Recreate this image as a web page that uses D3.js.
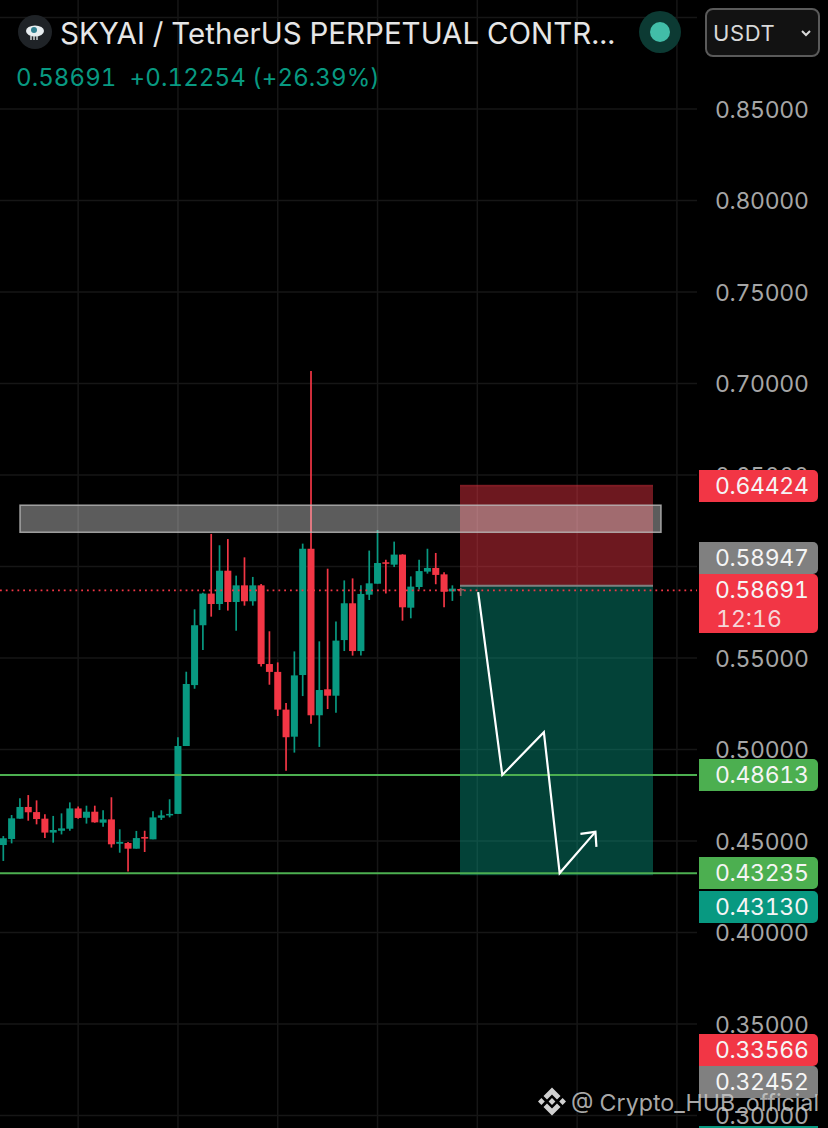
<!DOCTYPE html>
<html>
<head>
<meta charset="utf-8">
<script src="https://cdn.jsdelivr.net/npm/d3@7"></script>
<style>
  html, body { margin: 0; padding: 0; background: #000; }
  svg { display: block; }
  text { font-family: Inter, Roboto, sans-serif; white-space: pre; font-variant-numeric: tabular-nums; }
</style>
</head>
<body>
<script>
// candle data, oldest first
var opens = [.4478,.4511,.4622,.4686,.4658,.4622,.4546,.4556,.4567,.4678,.4627,.4660,.4600,.4618,.4485,.4489,.4458,.4522,.4509,.4627,.4640,
  .4648,.5019,.5352,.5679,.5852,.5795,.5977,.5806,.5897,.5810,.5897,.5467,.5424,.5218,.5070,.5407,.6097,.5187,.5329,.5294,.5598,.5799,.5538,.5846,.5906,.6023,.6010,.6065,.5775,.5888,.5972,.5992,.5957,.5864,.5877];
var highs = [.4527,.4642,.4733,.4751,.4722,.4646,.4637,.4651,.4711,.4689,.4693,.4693,.4668,.4739,.4564,.4495,.4555,.4556,.4662,.4668,.4728,
  .5067,.5425,.5766,.5857,.6178,.6116,.6150,.5950,.6050,.5943,.5904,.5646,.5476,.5254,.5536,.6125,.7068,.5591,.5988,.5700,.5924,.5935,.5897,.6087,.6199,.6037,.6136,.6067,.5946,.6037,.6097,.6074,.5968,.5897,.5883];
var lows = [.4391,.4487,.4622,.4611,.4591,.4516,.4491,.4536,.4556,.4622,.4595,.4600,.4578,.4464,.4436,.4334,.4458,.4440,.4509,.4615,.4629,
  .4648,.5019,.5332,.5544,.5726,.5762,.5759,.5649,.5786,.5786,.5453,.5354,.5183,.4884,.4983,.5292,.5141,.5014,.5221,.5201,.5538,.5513,.5513,.5817,.5906,.5852,.5997,.5704,.5717,.5875,.5961,.5903,.5777,.5812,.5839];
var closes = [.4515,.4624,.4686,.4657,.4620,.4546,.4560,.4569,.4678,.4626,.4660,.4602,.4618,.4482,.4495,.4458,.4516,.4513,.4629,.4640,.4648,
  .5019,.5358,.5679,.5852,.5795,.5977,.5806,.5897,.5810,.5897,.5467,.5424,.5218,.5067,.5405,.6097,.5187,.5325,.5294,.5595,.5799,.5538,.5850,.5908,.6019,.6015,.6065,.5777,.5890,.5975,.5992,.5954,.5862,.5879,.58691];

var priceTicks = [0.30, 0.35, 0.40, 0.45, 0.50, 0.55, 0.60, 0.65, 0.70, 0.75, 0.80, 0.85, 0.90];
var timeTicks = [9, 21, 33, 45, 57, 69, 81];

// tags on the price axis
var tagValues = ["0.64424", "0.58947", "0.58691", "0.48613", "0.43235", "0.43130", "0.33566", "0.32452"];
var tagKinds = ["red", "gray", "red", "green", "green", "teal", "red", "gray"];
var tagTops = [470, 542, 574, 759, 857, 891, 1034, 1066];

// drawn position tool: stop, entry, target, and levels
var stopPrice = 0.64424, entryPrice = 0.58947, targetPrice = 0.43130;
var supportLevels = [0.48613, 0.43235];
var zoneTop = 0.6335, zoneBottom = 0.6187;
var lastPrice = 0.58691;
// hand drawn arrow, [candle index, price]
var arrowPath = [[57.1, 0.5860], [60, 0.4861], [65, 0.5095], [66.9, 0.4325], [71.2, 0.4550]];

var width = 828, height = 1128, plotRight = 697;
var red = "#f23645", teal = "#089981", green = "#4caf50";
var tagColor = { red: red, gray: "#808080", green: green, teal: teal };

var x = d3.scaleLinear().domain([0, 55]).range([3.3, 460.7]);
var y = d3.scaleLinear().domain([0.30, 0.85]).range([1115.5, 109]);

var svg = d3.select("body").append("svg")
  .attr("width", width)
  .attr("height", height)
  .style("background", "#000");

// grid
var grid = svg.append("g");
grid.selectAll(".h").data(priceTicks).join("line")
  .attr("x1", 0).attr("x2", plotRight)
  .attr("y1", function(d) { return y(d); }).attr("y2", function(d) { return y(d); })
  .attr("stroke", "#161616").attr("stroke-width", 1.5);
grid.selectAll(".v").data(timeTicks).join("line")
  .attr("x1", function(d) { return x(d); }).attr("x2", function(d) { return x(d); })
  .attr("y1", 0).attr("y2", height)
  .attr("stroke", "#161616").attr("stroke-width", 1.5);

// price axis labels
var axis = d3.axisRight(y)
  .tickValues(priceTicks.filter(function(d) { return d != 0.60 && d != 0.90; }))
  .tickFormat(d3.format(".5f"))
  .tickSize(0);
var axisG = svg.append("g").attr("transform", "translate(715,0)").call(axis);
axisG.select(".domain").remove();
axisG.selectAll("text")
  .attr("x", 0).attr("dy", "0.36em")
  .attr("fill", "#a6a6a6")
  .style("font-size", "23px")
  .style("letter-spacing", "-0.3px")
  .style("font-family", "Inter, Roboto, sans-serif");

// candles
var candles = d3.range(opens.length);
function candleColor(i) { return closes[i] >= opens[i] ? teal : red; }
svg.append("g").selectAll("line").data(candles).join("line")
  .attr("x1", function(i) { return x(i); }).attr("x2", function(i) { return x(i); })
  .attr("y1", function(i) { return y(highs[i]); }).attr("y2", function(i) { return y(lows[i]); })
  .attr("stroke", candleColor).attr("stroke-width", 1.7);
svg.append("g").selectAll("rect").data(candles).join("rect")
  .attr("x", function(i) { return x(i) - 3.5; })
  .attr("width", 7)
  .attr("y", function(i) { return y(Math.max(opens[i], closes[i])); })
  .attr("height", function(i) { return Math.max(1.5, Math.abs(y(opens[i]) - y(closes[i]))); })
  .attr("fill", candleColor);

// position tool
var boxLeft = x(55) - 0.7, boxRight = 653;
svg.append("rect").attr("x", boxLeft).attr("width", boxRight - boxLeft)
  .attr("y", y(stopPrice)).attr("height", y(entryPrice) - y(stopPrice))
  .attr("fill", red).attr("fill-opacity", 0.45);
svg.append("line").attr("x1", boxLeft).attr("x2", boxRight)
  .attr("y1", y(stopPrice)).attr("y2", y(stopPrice))
  .attr("stroke", red).attr("stroke-opacity", 0.4).attr("stroke-width", 1.5);
svg.append("rect").attr("x", boxLeft).attr("width", boxRight - boxLeft)
  .attr("y", y(entryPrice)).attr("height", y(targetPrice) - y(entryPrice))
  .attr("fill", teal).attr("fill-opacity", 0.43);
svg.append("line").attr("x1", boxLeft).attr("x2", boxRight)
  .attr("y1", y(entryPrice)).attr("y2", y(entryPrice))
  .attr("stroke", "#808080").attr("stroke-width", 2);

// resistance zone
svg.append("rect").attr("x", 20).attr("width", 641)
  .attr("y", y(zoneTop)).attr("height", y(zoneBottom) - y(zoneTop))
  .attr("fill", "#fff").attr("fill-opacity", 0.36)
  .attr("stroke", "#bdbdbd").attr("stroke-opacity", 0.8).attr("stroke-width", 1.5);

// support lines
svg.append("g").selectAll("line").data(supportLevels).join("line")
  .attr("x1", 0).attr("x2", plotRight)
  .attr("y1", function(d) { return y(d); }).attr("y2", function(d) { return y(d); })
  .attr("stroke", green).attr("stroke-width", 2);

// last price line
svg.append("line").attr("x1", 0).attr("x2", plotRight)
  .attr("y1", y(lastPrice)).attr("y2", y(lastPrice))
  .attr("stroke", red).attr("stroke-width", 1.8).attr("stroke-dasharray", "1.8 4");

// arrow
var arrowLine = d3.line().x(function(d) { return x(d[0]); }).y(function(d) { return y(d[1]); });
svg.append("path").datum(arrowPath).attr("d", arrowLine)
  .attr("fill", "none").attr("stroke", "#fff").attr("stroke-width", 2.2);
var tip = arrowPath[arrowPath.length - 1];
var tx = x(tip[0]), ty = y(tip[1]);
svg.append("path")
  .attr("d", "M" + (tx - 15) + "," + (ty + 2) + "L" + tx + "," + ty + "L" + (tx + 1) + "," + (ty + 15))
  .attr("fill", "none").attr("stroke", "#fff").attr("stroke-width", 2.2);

// price tags
var tags = svg.append("g").selectAll("g").data(tagValues).join("g");
tags.append("path")
  .attr("d", function(d, i) {
    var h = d == "0.58691" ? 59 : 32;
    return "M699," + tagTops[i] + "H813a5,5 0 0 1 5,5V" + (tagTops[i] + h - 5) + "a5,5 0 0 1 -5,5H699Z";
  })
  .attr("fill", function(d, i) { return tagColor[tagKinds[i]]; });
tags.append("text")
  .attr("x", 715)
  .attr("y", function(d, i) { return tagTops[i] + 16; })
  .attr("dy", "0.36em")
  .attr("fill", "#f5f5f5")
  .style("font-size", "23px")
  .style("letter-spacing", "-0.3px")
  .text(function(d) { return d; });
svg.append("text").attr("x", 716).attr("y", 627).attr("fill", "#f5d5d8")
  .style("font-size", "23px").text("12:16");
svg.append("rect").attr("x", 699).attr("y", 1126).attr("width", 119).attr("height", 4).attr("fill", teal);

// header
svg.append("circle").attr("cx", 35).attr("cy", 32).attr("r", 17).attr("fill", "#1f2327");
svg.append("ellipse").attr("cx", 35).attr("cy", 31).attr("rx", 9).attr("ry", 5.5).attr("fill", "#e8eef0");
svg.append("circle").attr("cx", 34).attr("cy", 30).attr("r", 3).attr("fill", "#2f7f8f");
svg.append("path").attr("d", "M31,36v4M34,36v4M37,36v4").attr("stroke", "#d8dee0").attr("stroke-width", 1.4);
svg.append("text").attr("x", 60).attr("y", 44).attr("fill", "#e6e6e6")
  .style("font-size", "29.5px").text("SKYAI / TetherUS PERPETUAL CONTR...");
svg.append("text").attr("x", 16).attr("y", 86).attr("fill", teal)
  .style("font-size", "24px").style("letter-spacing", "0.1px").text("0.58691  +0.12254 (+26.39%)");
svg.append("circle").attr("cx", 660).attr("cy", 32).attr("r", 21).attr("fill", "#0c3a33");
svg.append("circle").attr("cx", 660).attr("cy", 32).attr("r", 10).attr("fill", "#42bda8");
svg.append("rect").attr("x", 706).attr("y", 9).attr("width", 113).attr("height", 47).attr("rx", 7)
  .attr("fill", "#121212").attr("stroke", "#5a5a5a").attr("stroke-width", 2);
svg.append("text").attr("x", 713).attr("y", 41).attr("fill", "#d9d9d9")
  .style("font-size", "22px").style("letter-spacing", "0.6px").text("USDT");
svg.append("path").attr("d", "M802,31l4,4l4,-4").attr("fill", "none").attr("stroke", "#d9d9d9").attr("stroke-width", 2);

// watermark
var mark = svg.append("g").attr("transform", "translate(552,1101.5)").attr("fill", "#d0d0d0");
mark.append("path").attr("d", "M0,-14L8.5,-5.5L5,-2L0,-7L-5,-2L-8.5,-5.5Z");
mark.append("path").attr("d", "M0,14L8.5,5.5L5,2L0,7L-5,2L-8.5,5.5Z");
mark.append("path").attr("d", "M0,-3.4L3.4,0L0,3.4L-3.4,0Z");
mark.append("path").attr("d", "M-10.6,-3.4L-7.2,0L-10.6,3.4L-14,0Z");
mark.append("path").attr("d", "M10.6,-3.4L14,0L10.6,3.4L7.2,0Z");
svg.append("text").attr("x", 571).attr("y", 1111).attr("fill", "#c8c8c8").attr("fill-opacity", 0.85)
  .style("font-size", "23.2px").text("@ Crypto_HUB_official");
</script>
</body>
</html>
